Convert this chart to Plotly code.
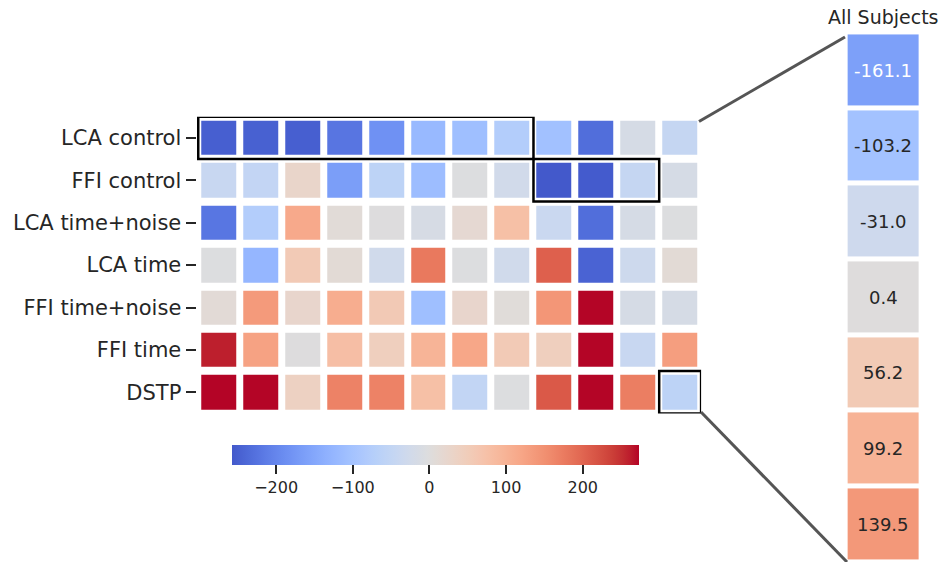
import numpy as np
import plotly.graph_objects as go

# ---------------- data ----------------
models = ["LCA control", "FFI control", "LCA time+noise", "LCA time",
          "FFI time+noise", "FFI time", "DSTP"]
n_subjects = 12

lca_control = [-250, -248, -250, -222, -183, -120, -109, -77, -104, -232, -16, -46]
ffi_control = [-41, -50, 27, -164, -60, -112, -3, -25, -257.6, -255, -46, -16]
lca_time_noise = [-221, -77, 115, 8, 0, -14, 16, 77, -38, -232, -16, -3]
lca_time = [-3, -125, 55, 11, -27, 178, -3, -27, 205, -245, -33, 11]
ffi_time_noise = [10, 137, 25, 109, 57, -109, 25, 5, 142, 273, -16, -16]
ffi_time = [260, 126, 0, 79, 44, 98, 118, 55, 44, 273, -41, 131]
dstp = [273.4, 273, 38, 167, 167, 77, -52, -3, 213, 273, 172, -60]

all_subjects = [-161.1, -103.2, -31.0, 0.4, 56.2, 99.2, 139.5]
cbar_ticks = [-200, -100, 0, 100, 200]
cbar_ticktext = ["\u2212200", "\u2212100", "0", "100", "200"]

z = [lca_control, ffi_control, lca_time_noise, lca_time, ffi_time_noise, ffi_time, dstp]

# ---------------- colormap (coolwarm, centred at 0) ----------------
cw = np.array([
    [59, 76, 192], [68, 90, 204], [77, 104, 215], [87, 117, 225], [98, 130, 234],
    [108, 142, 241], [119, 154, 247], [130, 165, 251], [141, 176, 254], [152, 185, 255],
    [163, 194, 255], [174, 201, 253], [184, 208, 249], [194, 213, 244], [204, 217, 238],
    [213, 219, 230], [221, 221, 221], [229, 216, 209], [236, 211, 197], [241, 204, 185],
    [245, 196, 173], [247, 187, 160], [247, 177, 148], [247, 166, 135], [244, 154, 123],
    [241, 141, 111], [236, 127, 99], [229, 112, 88], [222, 96, 77], [213, 80, 66],
    [203, 62, 56], [192, 40, 47], [180, 4, 38]], dtype=float)
cw_pos = np.linspace(0, 1, len(cw))

flat = np.array(z, dtype=float)
zmin = float(flat.min())
zmax = float(flat.max())
vr = max(abs(zmin), abs(zmax))


def cmap(f):
    f = min(max(f, 0.0), 1.0)
    return [float(np.interp(f, cw_pos, cw[:, k])) for k in range(3)]


colorscale = []
for t in np.linspace(0, 1, 49):
    v = zmin + t * (zmax - zmin)
    r, g, b = cmap(0.5 + v / (2 * vr))
    colorscale.append([float(t), f"rgb({r:.0f},{g:.0f},{b:.0f})"])

# ---------------- geometry (pixels -> paper) ----------------
W, H = 943, 562
def px(x):
    return x / W
def py(y):
    return 1 - y / H

pitch_x = (701.1 - 198.25) / 12
x_extra = (198.25 - 196.5) / pitch_x

fig = go.Figure()

fig.add_trace(go.Heatmap(
    z=z, x=list(range(n_subjects)), y=list(range(len(models))),
    colorscale=colorscale, zmin=zmin, zmax=zmax,
    xgap=7, ygap=8, hoverinfo="z",
    colorbar=dict(
        orientation="h", x=px(435.5), xanchor="center", y=py(445), yanchor="top",
        len=407 / W, lenmode="fraction", thickness=20, xpad=0, ypad=0,
        outlinewidth=0, ticks="outside", ticklen=9, tickwidth=2, tickcolor="#262626",
        tickvals=cbar_ticks, ticktext=cbar_ticktext,
        tickfont=dict(size=16, color="#262626", family="DejaVu Sans"),
    ),
    xaxis="x", yaxis="y",
))

fig.add_trace(go.Heatmap(
    z=[[v] for v in all_subjects], x=[0], y=list(range(len(all_subjects))),
    colorscale=colorscale, zmin=zmin, zmax=zmax, showscale=False,
    xgap=5, ygap=5, hoverinfo="z",
    xaxis="x2", yaxis="y2",
))

# value annotations
annotations = []
for i, v in enumerate(all_subjects):
    r, g, b = cmap(0.5 + v / (2 * vr))
    lum = 0.2126 * (r / 255) ** 2.2 + 0.7152 * (g / 255) ** 2.2 + 0.0722 * (b / 255) ** 2.2
    col = "#262626" if lum > 0.408 else "white"
    annotations.append(dict(
        x=0, y=i, xref="x2", yref="y2", text=f"{v:.1f}", showarrow=False,
        font=dict(size=18, color=col, family="DejaVu Sans")))
annotations.append(dict(
    x=px(883), y=py(17), xref="paper", yref="paper", text="All Subjects",
    showarrow=False, font=dict(size=19, color="#262626", family="DejaVu Sans"),
    xanchor="center", yanchor="middle"))

shapes = []
# highlight rectangles
for (c0, c1, r0, r1) in [(0, 8, 0, 1), (8, 11, 1, 2), (11, 12, 6, 7)]:
    shapes.append(dict(type="rect", xref="x", yref="y",
                       x0=c0 - 0.5, x1=c1 - 0.5, y0=r0 - 0.5, y1=r1 - 0.5,
                       line=dict(color="black", width=2.5)))
# connector lines
shapes.append(dict(type="line", xref="paper", yref="paper",
                   x0=px(699), y0=py(121.5), x1=px(845), y1=py(37),
                   line=dict(color="#555555", width=3)))
shapes.append(dict(type="line", xref="paper", yref="paper",
                   x0=px(701), y0=py(412), x1=px(847), y1=py(562),
                   line=dict(color="#555555", width=3)))

fig.update_layout(
    width=W, height=H, margin=dict(l=0, r=0, t=0, b=0),
    paper_bgcolor="white", plot_bgcolor="white",
    font=dict(family="DejaVu Sans", color="#262626"),
    xaxis=dict(domain=[px(196.5), px(701.1)], range=[-0.5 - x_extra, n_subjects - 0.5],
               showticklabels=False, ticks="", showgrid=False, zeroline=False,
               showline=False),
    yaxis=dict(domain=[py(413.5), py(116.7)], range=[len(models) - 0.5, -0.5],
               tickvals=list(range(len(models))), ticktext=models,
               ticks="outside", ticklen=10, tickwidth=2, tickcolor="#262626",
               tickfont=dict(size=21, color="#262626", family="DejaVu Sans"),
               showgrid=False, zeroline=False, showline=False),
    xaxis2=dict(domain=[px(845.6), px(921.1)], range=[-0.5, 0.5], visible=False),
    yaxis2=dict(domain=[0, py(32.4)], range=[len(all_subjects) - 0.5, -0.5], visible=False),
    annotations=annotations, shapes=shapes,
)

fig.write_html("out.html")
